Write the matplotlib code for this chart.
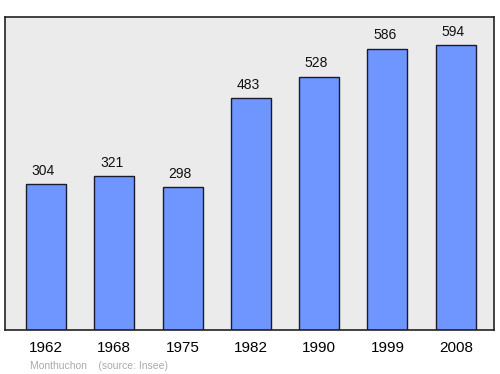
import matplotlib.pyplot as plt

years = ['1962', '1968', '1975', '1982', '1990', '1999', '2008']
population = [304, 321, 298, 483, 528, 586, 594]

fig = plt.figure(figsize=(5, 3.74), dpi=100)
ax = fig.add_axes([0.01, 0.1176, 0.978, 0.837])
ax.set_facecolor('#ebebeb')

x = range(len(years))
ax.bar(x, population, width=0.585, color='#6f96ff', edgecolor='#1a1a2e', linewidth=1, zorder=2)

# value labels sit a little left of the bar centres in the original
for i, v in zip(x, population):
    ax.text(i - 0.04, v + 652 * 0.02, str(v), ha='center', va='bottom', fontsize=10,
            family='Liberation Sans', color='#111111')

ax.set_xlim(-0.6, 6.56)
ax.set_ylim(0, 652)
ax.set_xticks(list(x))
ax.set_xticklabels(years, fontsize=11, family='Liberation Sans')
ax.tick_params(axis='x', length=0, pad=8)
ax.set_yticks([])
for s in ax.spines.values():
    s.set_color('#222222')
    s.set_linewidth(1.2)

fig.text(0.06, 0.013, 'Monthuchon    (source: Insee)', fontsize=7.5,
         color='#aaaaaa', family='Liberation Sans')

fig.savefig('out.png', dpi=100)
